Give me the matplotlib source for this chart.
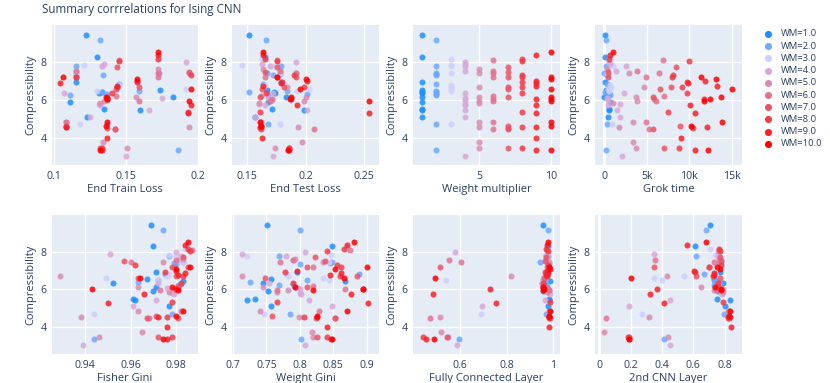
import matplotlib
matplotlib.use("Agg")
import matplotlib.pyplot as plt
from matplotlib.ticker import FixedLocator

plt.rcParams["font.family"] = ["Open Sans", "DejaVu Sans"]

TITLE = "Summary corrrelations for Ising CNN"
WM_VALUES = [1.0, 2.0, 3.0, 4.0, 5.0, 6.0, 7.0, 8.0, 9.0, 10.0]
WM_COLORS = ["#1e8fff", "#70a8ff", "#cfcfff", "#d8a8d8", "#d98cb0",
             "#e27390", "#ea5566", "#f23a48", "#fa1f28", "#ff0000"]

# compressibility per run, grouped by weight multiplier
COMPRESSIBILITY = [
    [9.45, 8.3, 6.95, 6.55, 6.45, 6.35, 6.15, 5.9, 5.5, 5.45, 5.1],
    [9.2, 7.8, 7.45, 7.4, 7.35, 6.85, 6.5, 6.4, 6.3, 6.25, 4.7, 3.35],
    [8.15, 7.85, 7.8, 7.45, 6.8, 6.7, 6.6, 6.5, 4.7],
    [8.0, 7.9, 7.8, 7.55, 6.35, 6.1, 6.0, 5.8, 5.75, 5.45, 5.1, 3.05],
    [7.65, 7.45, 6.7, 6.15, 5.95, 5.85, 4.85, 4.55, 3.75, 3.45],
    [8.1, 7.55, 7.45, 7.2, 6.2, 6.05, 5.95, 4.85, 4.45],
    [7.75, 7.5, 7.2, 6.7, 6.6, 6.15, 4.6, 4.5, 4.45, 3.45],
    [8.15, 8.05, 7.3, 7.2, 6.95, 6.7, 6.35, 5.35, 4.55, 3.45],
    [8.4, 7.0, 6.9, 6.75, 6.05, 5.75, 5.3, 4.55, 4.0, 3.35],
    [8.55, 7.2, 7.1, 6.6, 6.15, 6.05, 5.95, 4.85, 4.6, 3.35],
]

END_TRAIN_LOSS = [
    [0.122, 0.130, 0.115, 0.174, 0.133, 0.131, 0.183, 0.111, 0.135, 0.160, 0.123],
    [0.132, 0.115, 0.173, 0.115, 0.134, 0.145, 0.159, 0.133, 0.137, 0.111, 0.137, 0.186],
    [0.172, 0.121, 0.133, 0.115, 0.145, 0.144, 0.192, 0.130, 0.118],
    [0.192, 0.135, 0.133, 0.115, 0.107, 0.175, 0.137, 0.131, 0.132, 0.166, 0.125, 0.150],
    [0.172, 0.194, 0.144, 0.157, 0.135, 0.132, 0.108, 0.194, 0.134, 0.151],
    [0.145, 0.115, 0.172, 0.172, 0.143, 0.137, 0.159, 0.108, 0.142],
    [0.144, 0.194, 0.115, 0.159, 0.143, 0.137, 0.108, 0.137, 0.142, 0.132],
    [0.172, 0.145, 0.195, 0.115, 0.158, 0.144, 0.140, 0.193, 0.108, 0.133],
    [0.172, 0.158, 0.104, 0.144, 0.137, 0.195, 0.193, 0.108, 0.137, 0.133],
    [0.172, 0.106, 0.158, 0.195, 0.136, 0.137, 0.194, 0.137, 0.136, 0.132],
]

END_TEST_LOSS = [
    [0.152, 0.165, 0.179, 0.167, 0.173, 0.174, 0.183, 0.168, 0.171, 0.199, 0.157],
    [0.166, 0.179, 0.167, 0.178, 0.172, 0.164, 0.184, 0.152, 0.201, 0.168, 0.168, 0.185],
    [0.163, 0.146, 0.172, 0.179, 0.165, 0.164, 0.203, 0.193, 0.178],
    [0.192, 0.163, 0.170, 0.178, 0.172, 0.168, 0.171, 0.160, 0.165, 0.201, 0.157, 0.172],
    [0.164, 0.192, 0.184, 0.200, 0.199, 0.160, 0.161, 0.194, 0.197, 0.174],
    [0.176, 0.178, 0.192, 0.165, 0.162, 0.171, 0.170, 0.162, 0.207],
    [0.176, 0.165, 0.192, 0.182, 0.163, 0.161, 0.162, 0.161, 0.162, 0.186],
    [0.165, 0.176, 0.190, 0.176, 0.180, 0.199, 0.166, 0.161, 0.161, 0.186],
    [0.164, 0.201, 0.179, 0.164, 0.188, 0.193, 0.254, 0.162, 0.163, 0.186],
    [0.164, 0.176, 0.200, 0.195, 0.188, 0.187, 0.254, 0.161, 0.162, 0.185],
]

GROK_TIME = [
    [100, 100, 100, 250, 400, 600, 50, 700, 600, 550, 500],
    [200, 250, 0, 500, 400, 300, 500, 100, 600, 700, 350, 200],
    [600, 900, 1100, 400, 700, 800, 500, 600, 900],
    [600, 700, 2600, 1400, 2400, 400, 500, 1900, 500, 1500, 1900, 2100],
    [400, 2900, 4700, 3800, 3900, 1000, 3400, 1700, 3400, 3800],
    [6900, 3900, 6500, 4900, 7000, 5900, 6100, 4900, 5300],
    [8400, 500, 500, 7900, 6600, 5700, 8900, 10500, 5800, 7100],
    [600, 10000, 8100, 8000, 9800, 9200, 9800, 7500, 10300, 8800],
    [700, 11900, 9900, 13300, 11700, 10100, 10700, 12100, 9000, 10700],
    [1100, 11400, 13100, 15000, 13700, 12400, 11700, 13900, 10200, 12200],
]

FISHER_GINI = [
    [0.969, 0.970, 0.971, 0.967, 0.983, 0.952, 0.971, 0.970, 0.961, 0.962, 0.977],
    [0.974, 0.977, 0.983, 0.979, 0.980, 0.975, 0.972, 0.963, 0.982, 0.981, 0.978, 0.944],
    [0.984, 0.977, 0.980, 0.983, 0.977, 0.976, 0.949, 0.972, 0.944],
    [0.980, 0.951, 0.982, 0.981, 0.972, 0.976, 0.979, 0.978, 0.979, 0.971, 0.961, 0.939],
    [0.983, 0.974, 0.929, 0.963, 0.980, 0.977, 0.963, 0.938, 0.965, 0.946],
    [0.987, 0.980, 0.960, 0.979, 0.981, 0.981, 0.973, 0.982, 0.968],
    [0.983, 0.957, 0.978, 0.980, 0.963, 0.981, 0.971, 0.981, 0.967, 0.972],
    [0.985, 0.986, 0.962, 0.985, 0.975, 0.983, 0.982, 0.978, 0.976, 0.978],
    [0.984, 0.980, 0.984, 0.981, 0.980, 0.966, 0.950, 0.972, 0.976, 0.976],
    [0.985, 0.986, 0.980, 0.964, 0.978, 0.943, 0.981, 0.983, 0.980, 0.974],
]

WEIGHT_GINI = [
    [0.751, 0.848, 0.795, 0.757, 0.868, 0.745, 0.793, 0.753, 0.733, 0.721, 0.757],
    [0.800, 0.769, 0.848, 0.845, 0.800, 0.888, 0.810, 0.726, 0.790, 0.769, 0.785, 0.802],
    [0.870, 0.847, 0.721, 0.843, 0.780, 0.783, 0.834, 0.844, 0.746],
    [0.808, 0.714, 0.780, 0.790, 0.754, 0.797, 0.800, 0.800, 0.802, 0.813, 0.848, 0.808],
    [0.793, 0.835, 0.714, 0.745, 0.783, 0.766, 0.740, 0.798, 0.818, 0.820],
    [0.875, 0.790, 0.770, 0.820, 0.820, 0.868, 0.766, 0.828, 0.852],
    [0.822, 0.838, 0.810, 0.885, 0.748, 0.810, 0.758, 0.824, 0.852, 0.825],
    [0.866, 0.840, 0.855, 0.862, 0.778, 0.860, 0.790, 0.766, 0.806, 0.840],
    [0.870, 0.795, 0.862, 0.845, 0.895, 0.876, 0.902, 0.825, 0.840, 0.846],
    [0.881, 0.901, 0.853, 0.866, 0.792, 0.895, 0.819, 0.870, 0.826, 0.848],
]

FC_LAYER = [
    [0.958, 0.978, 0.975, 0.957, 0.985, 0.955, 0.973, 0.957, 0.980, 0.983, 0.976],
    [0.976, 0.978, 0.945, 0.980, 0.979, 0.967, 0.960, 0.970, 0.952, 0.965, 0.967, 0.596],
    [0.972, 0.975, 0.965, 0.980, 0.968, 0.962, 0.958, 0.543, 0.690],
    [0.580, 0.975, 0.970, 0.968, 0.950, 0.962, 0.978, 0.983, 0.985, 0.965, 0.693, 0.589],
    [0.968, 0.980, 0.819, 0.955, 0.980, 0.975, 0.985, 0.516, 0.519, 0.551],
    [0.972, 0.554, 0.604, 0.975, 0.965, 0.978, 0.983, 0.980, 0.471],
    [0.968, 0.965, 0.514, 0.975, 0.960, 0.955, 0.982, 0.980, 0.985, 0.547],
    [0.970, 0.978, 0.977, 0.982, 0.965, 0.972, 0.958, 0.984, 0.983, 0.441],
    [0.975, 0.972, 0.978, 0.968, 0.731, 0.486, 0.754, 0.982, 0.983, 0.457],
    [0.977, 0.982, 0.985, 0.493, 0.955, 0.960, 0.958, 0.985, 0.982, 0.489],
]

CNN2_LAYER = [
    [0.708, 0.608, 0.770, 0.733, 0.740, 0.790, 0.770, 0.760, 0.752, 0.835, 0.800],
    [0.683, 0.620, 0.770, 0.772, 0.765, 0.670, 0.730, 0.745, 0.765, 0.735, 0.795, 0.414],
    [0.704, 0.740, 0.755, 0.780, 0.740, 0.538, 0.346, 0.399, 0.271],
    [0.760, 0.346, 0.760, 0.780, 0.765, 0.775, 0.790, 0.780, 0.785, 0.452, 0.188, 0.448],
    [0.765, 0.770, 0.431, 0.650, 0.730, 0.790, 0.820, 0.314, 0.030, 0.437],
    [0.762, 0.354, 0.735, 0.700, 0.760, 0.780, 0.745, 0.825, 0.043],
    [0.770, 0.775, 0.346, 0.618, 0.770, 0.755, 0.830, 0.820, 0.825, 0.188],
    [0.765, 0.770, 0.775, 0.700, 0.608, 0.725, 0.760, 0.790, 0.822, 0.185],
    [0.559, 0.605, 0.730, 0.735, 0.369, 0.325, 0.412, 0.832, 0.840, 0.190],
    [0.678, 0.750, 0.770, 0.200, 0.740, 0.780, 0.775, 0.836, 0.830, 0.192],
]

TEXT = "#2a3f5f"
BG = "#e5ecf6"
W, H = 830, 383


def wm_x(i):
    return [WM_VALUES[i]] * len(COMPRESSIBILITY[i])


PANELS = [
    ("End Train Loss", END_TRAIN_LOSS, (0.0984, 0.2002), [0.1, 0.15, 0.2], ["0.1", "0.15", "0.2"]),
    ("End Test Loss", END_TEST_LOSS, (0.1372, 0.2628), [0.15, 0.2, 0.25], ["0.15", "0.2", "0.25"]),
    ("Weight multiplier", None, (0.374, 10.65), [5, 10], ["5", "10"]),
    ("Grok time", GROK_TIME, (-1060, 16200), [0, 5000, 10000, 15000], ["0", "5k", "10k", "15k"]),
    ("Fisher Gini", FISHER_GINI, (0.9253, 0.9896), [0.94, 0.96, 0.98], ["0.94", "0.96", "0.98"]),
    ("Weight Gini", WEIGHT_GINI, (0.6985, 0.9184), [0.7, 0.75, 0.8, 0.85, 0.9],
     ["0.7", "0.75", "0.8", "0.85", "0.9"]),
    ("Fully Connected Layer", FC_LAYER, (0.4, 1.0286), [0.6, 0.8, 1.0], ["0.6", "0.8", "1"]),
    ("2nd CNN Layer", CNN2_LAYER, (-0.028, 0.911), [0, 0.2, 0.4, 0.6, 0.8], ["0", "0.2", "0.4", "0.6", "0.8"]),
]

COLS = [(52, 198), (232, 379), (413, 560), (595, 742)]
ROWS = [(25, 165), (215, 354)]

fig = plt.figure(figsize=(W / 100, H / 100), dpi=100)

for idx, (label, xs, xlim, xticks, xticklabels) in enumerate(PANELS):
    left, right = COLS[idx % 4]
    top, bottom = ROWS[idx // 4]
    ax = fig.add_axes([left / W, 1 - bottom / H, (right - left) / W, (bottom - top) / H])
    ax.set_facecolor(BG)
    for i in range(len(WM_VALUES)):
        x = wm_x(i) if xs is None else xs[i]
        ax.scatter(x, COMPRESSIBILITY[i], s=19, color=WM_COLORS[i], alpha=0.85,
                   linewidths=0, zorder=3)
    ax.set_xlim(*xlim)
    ax.set_ylim(2.55, 9.98)
    ax.xaxis.set_major_locator(FixedLocator(xticks))
    ax.set_xticklabels(xticklabels)
    ax.set_yticks([4, 6, 8])
    ax.grid(True, color="white", linewidth=1.0, zorder=0)
    ax.set_axisbelow(True)
    if xlim[0] < 0:
        ax.axvline(0, color="white", linewidth=2.0, zorder=1)
    for sp in ax.spines.values():
        sp.set_visible(False)
    ax.tick_params(length=0, labelsize=7.6, labelcolor=TEXT, pad=4)
    ax.set_xlabel(label, fontsize=8, color=TEXT, labelpad=2)
    ax.set_ylabel("Compressibility", fontsize=8, color=TEXT, labelpad=3)

fig.text(42 / W, 1 - 10 / H, TITLE, fontsize=8.4, color=TEXT, ha="left", va="center")

# legend drawn on an overlay in pixel units
leg = fig.add_axes([0, 0, 1, 1])
leg.set_xlim(0, W)
leg.set_ylim(H, 0)
leg.axis("off")
for i, wm in enumerate(WM_VALUES):
    y = 34 + 12.2 * i
    leg.scatter([768], [y], s=26, color=WM_COLORS[i], linewidths=0)
    leg.text(781, y, f"WM={wm:.1f}", fontsize=6.8, color=TEXT, ha="left", va="center")

fig.savefig("out.png", dpi=100)
